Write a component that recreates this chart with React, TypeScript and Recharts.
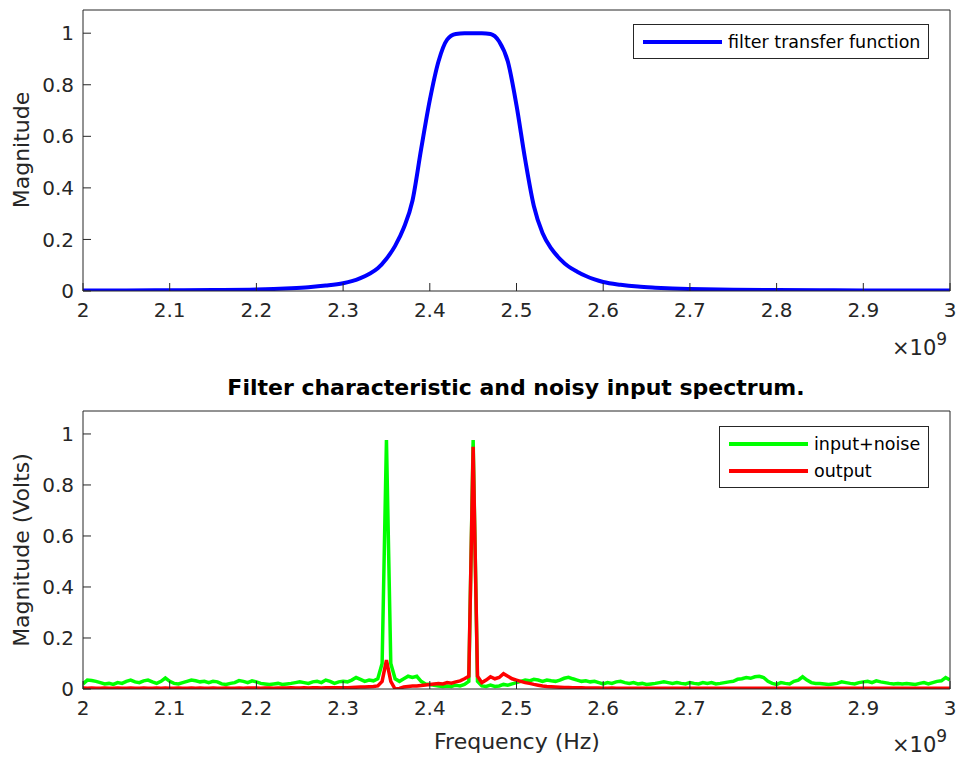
import { LineChart, Line, XAxis, YAxis, Legend } from 'recharts'

const FONT = '"DejaVu Sans", sans-serif'
const INK = '#262626'

const xTicks = [2, 2.1, 2.2, 2.3, 2.4, 2.5, 2.6, 2.7, 2.8, 2.9, 3]
const yTicks = [0, 0.2, 0.4, 0.6, 0.8, 1]

// filter transfer function (frequency in GHz, axis shows x10^9)
const filterFreq = [
  2.0, 2.05, 2.1, 2.15, 2.2, 2.22, 2.24, 2.26, 2.28, 2.3, 2.31, 2.32, 2.33, 2.34, 2.35,
  2.36, 2.37, 2.38, 2.39, 2.4, 2.41, 2.42, 2.43, 2.44, 2.45, 2.46, 2.47, 2.48, 2.49, 2.5,
  2.51, 2.52, 2.53, 2.54, 2.55, 2.56, 2.57, 2.58, 2.59, 2.6, 2.62, 2.64, 2.66, 2.68, 2.7,
  2.75, 2.8, 2.85, 2.9, 2.95, 3.0,
]
const filterMag = [
  0.002, 0.002, 0.003, 0.004, 0.006, 0.008, 0.011, 0.015, 0.021, 0.03, 0.038, 0.05, 0.066, 0.088, 0.125,
  0.175, 0.245, 0.35, 0.55, 0.74, 0.89, 0.975, 0.997, 1.0, 1.0, 1.0, 0.997, 0.968, 0.89, 0.72,
  0.51, 0.33, 0.225, 0.165, 0.125, 0.095, 0.075, 0.058, 0.045, 0.035, 0.024, 0.017, 0.013, 0.01, 0.008,
  0.005, 0.004, 0.003, 0.002, 0.002, 0.002,
]

// spectra, one value every 0.005 GHz from 2.000 to 3.000
const inputNoise = [
  0.02, 0.035, 0.033, 0.03, 0.025, 0.02, 0.022, 0.018, 0.025, 0.022,
  0.03, 0.035, 0.028, 0.025, 0.032, 0.035, 0.028, 0.022, 0.03, 0.043,
  0.03, 0.022, 0.02, 0.025, 0.03, 0.035, 0.032, 0.028, 0.03, 0.025,
  0.03, 0.028, 0.02, 0.018, 0.022, 0.025, 0.033, 0.03, 0.025, 0.032,
  0.028, 0.022, 0.02, 0.018, 0.02, 0.022, 0.018, 0.02, 0.022, 0.025,
  0.028, 0.025, 0.022, 0.028, 0.03, 0.025, 0.035, 0.03, 0.022, 0.028,
  0.03, 0.028, 0.035, 0.045, 0.038, 0.03, 0.035, 0.032, 0.04, 0.1,
  0.976, 0.1, 0.04, 0.03, 0.04, 0.05, 0.045, 0.05, 0.03, 0.02,
  0.018, 0.015, 0.012, 0.01, 0.012, 0.01, 0.015, 0.012, 0.018, 0.03,
  0.976, 0.03, 0.012, 0.01, 0.015, 0.01, 0.012, 0.018, 0.015, 0.02,
  0.025, 0.03, 0.035, 0.032, 0.038, 0.035, 0.03, 0.035, 0.032, 0.03,
  0.035, 0.042, 0.046, 0.04, 0.035, 0.03, 0.032, 0.028, 0.03, 0.025,
  0.02, 0.025, 0.022, 0.028, 0.03, 0.025, 0.022, 0.025, 0.02, 0.022,
  0.018, 0.02, 0.022, 0.025, 0.028, 0.025, 0.022, 0.025, 0.022, 0.02,
  0.025, 0.022, 0.02, 0.025, 0.022, 0.025, 0.02, 0.022, 0.025, 0.028,
  0.03, 0.038, 0.04, 0.045, 0.042, 0.048, 0.05, 0.045, 0.03, 0.022,
  0.018, 0.025, 0.022, 0.02, 0.03, 0.035, 0.048, 0.035, 0.025, 0.022,
  0.022, 0.02, 0.018, 0.02, 0.022, 0.028, 0.025, 0.022, 0.02, 0.025,
  0.028, 0.03, 0.025, 0.032, 0.028, 0.025, 0.022, 0.02, 0.022, 0.02,
  0.022, 0.02, 0.018, 0.022, 0.025, 0.02, 0.025, 0.03, 0.032, 0.045,
  0.035,
]
const outputSignal = [
  0.004, 0.003, 0.004, 0.003, 0.003, 0.004, 0.003, 0.003, 0.004, 0.003,
  0.003, 0.004, 0.003, 0.003, 0.004, 0.003, 0.003, 0.004, 0.003, 0.004,
  0.003, 0.003, 0.004, 0.003, 0.003, 0.004, 0.003, 0.004, 0.003, 0.003,
  0.004, 0.003, 0.003, 0.004, 0.003, 0.003, 0.004, 0.003, 0.004, 0.004,
  0.004, 0.003, 0.004, 0.004, 0.003, 0.004, 0.004, 0.004, 0.005, 0.004,
  0.004, 0.005, 0.004, 0.005, 0.005, 0.004, 0.005, 0.005, 0.005, 0.005,
  0.005, 0.005, 0.006, 0.007, 0.008, 0.008, 0.009, 0.01, 0.012, 0.03,
  0.113, 0.03, 0.0, 0.002, 0.008, 0.01, 0.012, 0.012, 0.014, 0.016,
  0.018, 0.02, 0.022, 0.02, 0.025, 0.023, 0.028, 0.032, 0.04, 0.05,
  0.95, 0.05, 0.025, 0.035, 0.048, 0.04, 0.045, 0.06, 0.05, 0.04,
  0.035, 0.03, 0.025, 0.022, 0.018, 0.015, 0.012, 0.01, 0.009, 0.008,
  0.007, 0.006, 0.006, 0.005, 0.005, 0.005, 0.004, 0.004, 0.004, 0.004,
  0.003, 0.003, 0.004, 0.003, 0.003, 0.003, 0.003, 0.003, 0.003, 0.003,
  0.003, 0.003, 0.003, 0.003, 0.003, 0.003, 0.003, 0.003, 0.003, 0.003,
  0.003, 0.003, 0.003, 0.003, 0.003, 0.003, 0.003, 0.003, 0.003, 0.003,
  0.003, 0.003, 0.003, 0.003, 0.003, 0.003, 0.003, 0.003, 0.003, 0.003,
  0.003, 0.003, 0.003, 0.003, 0.003, 0.003, 0.003, 0.003, 0.003, 0.003,
  0.003, 0.003, 0.003, 0.003, 0.003, 0.003, 0.003, 0.003, 0.003, 0.003,
  0.003, 0.003, 0.003, 0.003, 0.003, 0.003, 0.003, 0.003, 0.003, 0.003,
  0.003, 0.003, 0.003, 0.003, 0.003, 0.003, 0.003, 0.003, 0.003, 0.003,
  0.003,
]

const filterData = filterFreq.map((f, i) => ({ f, mag: filterMag[i] }))
const spectrumData = inputNoise.map((v, i) => ({
  f: +(2 + i * 0.005).toFixed(3),
  input: v,
  output: outputSignal[i],
}))

const tickStyle = { fill: INK, fontSize: 20, fontFamily: FONT }

// MATLAB-style boxed axes with ticks pointing inwards on all four sides
function boxAxes() {
  return [
    <XAxis key="xb" xAxisId="b" dataKey="f" type="number" domain={[2, 3]} ticks={xTicks}
      allowDataOverflow interval={0} height={30} tickSize={-8} tickMargin={20}
      stroke={INK} tick={tickStyle} />,
    <XAxis key="xt" xAxisId="t" orientation="top" dataKey="f" type="number" domain={[2, 3]}
      ticks={xTicks} allowDataOverflow interval={0} height={1} tickSize={-8} tick={false} stroke={INK} />,
    <YAxis key="yl" yAxisId="l" type="number" domain={[0, 1.09]} ticks={yTicks} allowDataOverflow
      interval={0} width={60} tickSize={-8} tickMargin={17} stroke={INK} tick={tickStyle} />,
    <YAxis key="yr" yAxisId="r" orientation="right" type="number" domain={[0, 1.09]} ticks={yTicks}
      allowDataOverflow interval={0} width={1} tickSize={-8} tick={false} stroke={INK} />,
  ]
}

function BoxLegend({ payload }: any) {
  return (
    <div style={{
      border: `1px solid ${INK}`, background: '#fff', padding: '3px 8px 3px 9px',
      fontFamily: FONT, fontSize: 17.5, color: '#000', whiteSpace: 'nowrap',
    }}>
      {(payload || []).map((p: any) => (
        <div key={p.value} style={{ display: 'flex', alignItems: 'center', height: 27 }}>
          <span style={{ display: 'inline-block', width: 79, height: 4, background: p.color, marginRight: 6 }} />
          <span>{p.value}</span>
        </div>
      ))}
    </div>
  )
}

function Exponent({ top }: { top: number }) {
  return (
    <div style={{ position: 'absolute', left: 892, top, fontFamily: FONT, color: INK, whiteSpace: 'nowrap' }}>
      <span style={{ fontSize: 21 }}>×10</span>
      <span style={{ fontSize: 17, position: 'relative', top: -10 }}>9</span>
    </div>
  )
}

const yLabel = (text: string, cy: number) => (
  <div style={{
    position: 'absolute', left: 22, top: cy, transform: 'translate(-50%, -50%) rotate(-90deg)',
    fontFamily: FONT, fontSize: 22, color: INK, whiteSpace: 'nowrap', lineHeight: 1,
  }}>{text}</div>
)

export default function App() {
  return (
    <div style={{ position: 'absolute', left: 0, top: 0, width: 959, height: 764, background: '#fff', overflow: 'hidden' }}>
      <div style={{ position: 'absolute', left: 0, top: 0 }}>
        <LineChart width={959} height={330} data={filterData} margin={{ top: 9, right: 8, bottom: 9, left: 23 }}>
          {boxAxes()}
          <Legend layout="vertical" align="center" verticalAlign="middle"
            wrapperStyle={{ left: 633, top: 24, width: 'auto' }} content={BoxLegend} />
          <Line xAxisId="b" yAxisId="l" type="monotone" dataKey="mag" name="filter transfer function"
            stroke="#0000ff" strokeWidth={4} dot={false} isAnimationActive={false} />
        </LineChart>
      </div>
      {yLabel('Magnitude', 150)}
      <Exponent top={336} />

      <div style={{
        position: 'absolute', left: 0, width: 1032, top: 377, textAlign: 'center',
        fontFamily: FONT, fontSize: 22, fontWeight: 'bold', color: '#000', lineHeight: 1,
      }}>Filter characteristic and noisy input spectrum.</div>

      <div style={{ position: 'absolute', left: 0, top: 400 }}>
        <LineChart width={959} height={330} data={spectrumData} margin={{ top: 10, right: 8, bottom: 11, left: 23 }}>
          {boxAxes()}
          <Legend layout="vertical" align="center" verticalAlign="middle"
            wrapperStyle={{ left: 719, top: 26, width: 'auto' }} content={BoxLegend} />
          <Line xAxisId="b" yAxisId="l" type="linear" dataKey="input" name="input+noise"
            stroke="#00ff00" strokeWidth={3.5} dot={false} isAnimationActive={false} />
          <Line xAxisId="b" yAxisId="l" type="linear" dataKey="output" name="output"
            stroke="#ff0000" strokeWidth={3.5} dot={false} isAnimationActive={false} />
        </LineChart>
      </div>
      {yLabel('Magnitude (Volts)', 550)}
      <div style={{
        position: 'absolute', left: 0, width: 1034, top: 731, textAlign: 'center',
        fontFamily: FONT, fontSize: 22, color: INK, lineHeight: 1,
      }}>Frequency (Hz)</div>
      <Exponent top={733} />
    </div>
  )
}
